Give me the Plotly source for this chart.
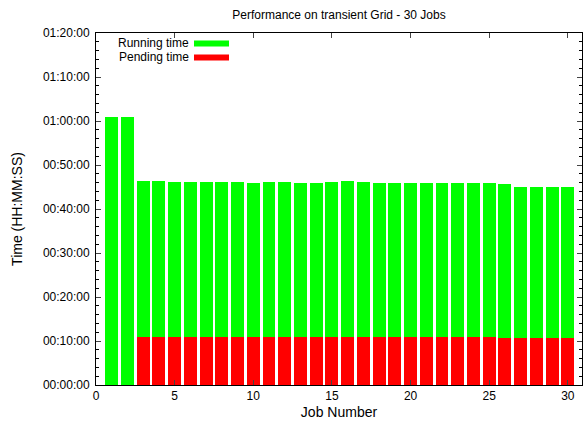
import plotly.graph_objects as go

jobs = list(range(1, 31))
pending = ["00:00:05", "00:00:05", "00:10:55", "00:10:55", "00:10:58", "00:11:00",
           "00:10:56", "00:10:56", "00:10:55", "00:10:55", "00:10:54", "00:10:55",
           "00:10:54", "00:10:54", "00:10:55", "00:10:52", "00:10:54", "00:10:52",
           "00:10:50", "00:10:50", "00:10:50", "00:10:50", "00:10:50", "00:10:48",
           "00:10:48", "00:10:40", "00:10:45", "00:10:45", "00:10:45", "00:10:40"]
running = ["01:00:43", "01:00:43", "00:35:33", "00:35:33", "00:35:08", "00:35:15",
           "00:35:10", "00:35:19", "00:35:20", "00:35:01", "00:35:12", "00:35:20",
           "00:34:59", "00:35:06", "00:35:11", "00:35:28", "00:35:12", "00:35:01",
           "00:35:07", "00:35:07", "00:35:03", "00:35:07", "00:35:07", "00:35:05",
           "00:35:05", "00:35:00", "00:34:13", "00:34:13", "00:34:13", "00:34:18"]


def to_sec(s):
    h, m, sec = map(int, s.split(":"))
    return h * 3600 + m * 60 + sec


def fmt(t):
    return f"{t // 3600:02d}:{t % 3600 // 60:02d}:{t % 60:02d}"


pend_s = [to_sec(s) for s in pending]
run_s = [to_sec(s) for s in running]
yticks = list(range(0, 4801, 600))

fig = go.Figure()
fig.add_trace(go.Bar(x=jobs, y=pend_s, name="Pending time", marker_color="#ff0000",
                     marker_line_width=0, width=0.82, showlegend=False))
fig.add_trace(go.Bar(x=jobs, y=run_s, name="Running time", marker_color="#00ff00",
                     marker_line_width=0, width=0.82, showlegend=False))

font = dict(family="Liberation Sans, Arial, sans-serif", size=12, color="black")
fig.update_layout(
    barmode="stack", width=584, height=422, plot_bgcolor="white", paper_bgcolor="white",
    margin=dict(l=96, r=2, t=33, b=37), font=font, bargap=0,
    title=dict(text="Performance on transient Grid - 30 Jobs", x=0.5, xref="paper",
               xanchor="center", y=1 - 15 / 422, yanchor="middle", yref="container",
               font=font),
)
fig.update_xaxes(range=[0, 30.9], tickvals=[0, 5, 10, 15, 20, 25, 30], ticks="inside",
                 ticklen=5, showline=True, linecolor="black", linewidth=1, mirror="ticks",
                 showgrid=False, zeroline=False, title=dict(text="Job Number", standoff=4))
fig.update_yaxes(range=[0, 4800], tickvals=yticks, ticktext=[fmt(t) for t in yticks],
                 ticks="inside", ticklen=5, showline=True, linecolor="black", linewidth=1,
                 mirror="ticks", showgrid=False, zeroline=False, ticklabelstandoff=3,
                 minor=dict(ticks="inside", dtick=120, ticklen=3, tickcolor="black"),
                 title=dict(text="Time (HH:MM:SS)", standoff=16))

# gnuplot-style key: label right-aligned, colour sample to its right
key = [("Running time", "#00ff00", 43.5), ("Pending time", "#ff0000", 57.5)]
for label, color, ypix in key:
    yp = 1 - (ypix - 33) / 352
    fig.add_annotation(text=label, xref="paper", yref="paper", x=(190 - 96) / 486, y=yp,
                       xanchor="right", yanchor="middle", showarrow=False, font=font,
                       borderpad=0)
    fig.add_shape(type="rect", xref="paper", yref="paper", x0=(194 - 96) / 486,
                  x1=(229 - 96) / 486, y0=yp - 3 / 352, y1=yp + 3 / 352,
                  fillcolor=color, line_width=0)

fig.write_html("out.html", config={"displayModeBar": False},
               post_script="document.body.style.margin='0';")
